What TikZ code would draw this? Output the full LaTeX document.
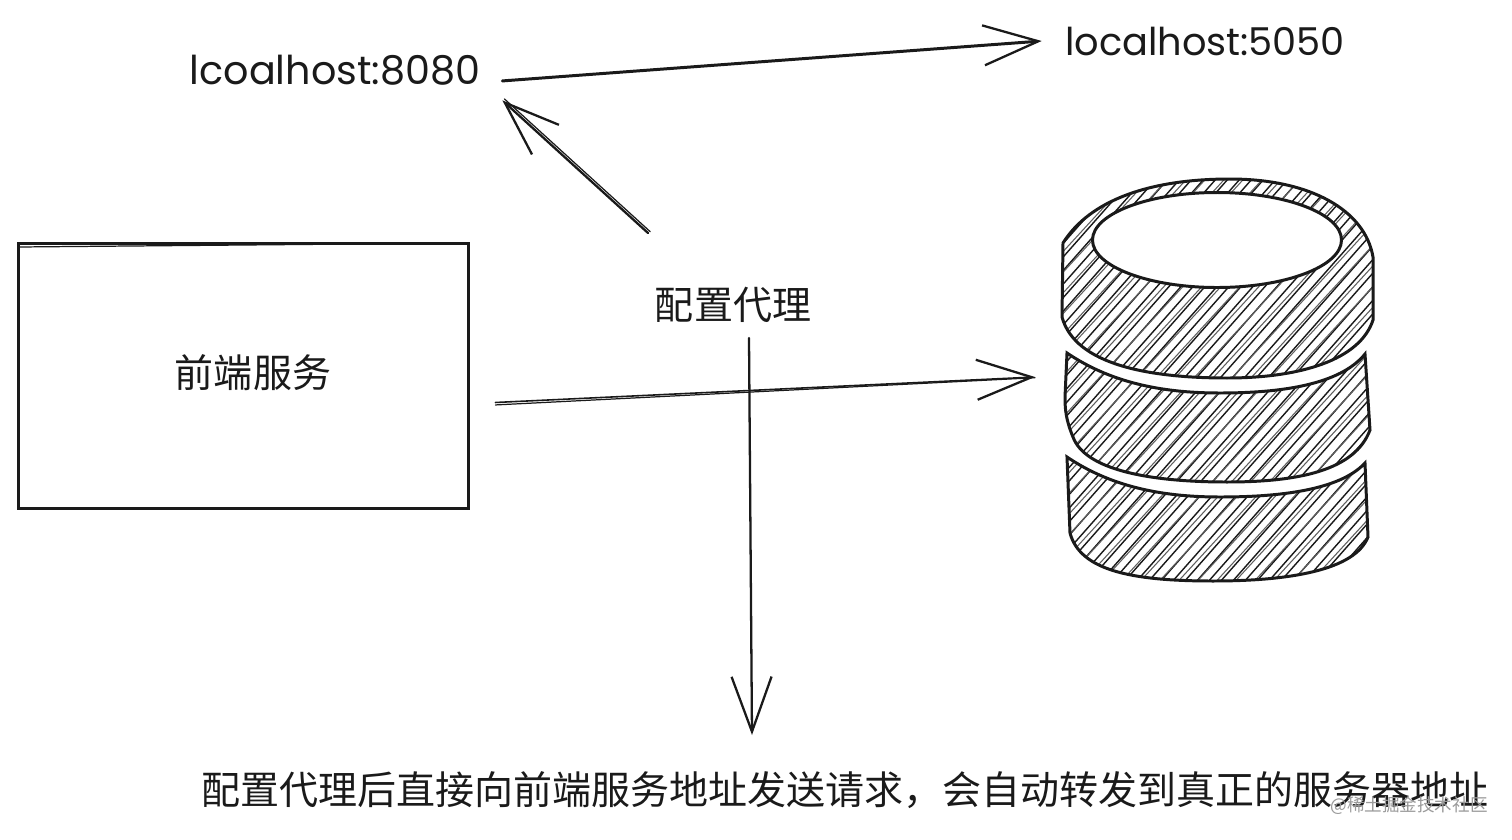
\documentclass[tikz,border=0pt]{standalone}
\usepackage{fontspec}
\setmainfont{Poppins}
\newfontfamily\cjk{Noto Sans CJK SC}
\usetikzlibrary{arrows.meta, positioning}
\definecolor{inkblack}{HTML}{1A1A1A}
\definecolor{markgray}{HTML}{9A9A9A}

% database tiers
\newcommand{\dbtop}{(1063,243) .. controls (1090,200) and (1150,179) .. (1230,179) .. controls (1310,179) and (1365,210) .. (1373,257) -- (1373,320) .. controls (1360,360) and (1300,378) .. (1227,378) .. controls (1150,378) and (1075,365) .. (1062,317) -- cycle}
\newcommand{\dbmid}{(1067,353) .. controls (1110,382) and (1160,393) .. (1220,393) .. controls (1280,393) and (1340,385) .. (1365,354) -- (1370,430) .. controls (1355,470) and (1300,482) .. (1227,482) .. controls (1150,482) and (1085,470) .. (1073,437) .. controls (1066,420) and (1065,410) .. (1065,397) -- cycle}
\newcommand{\dblow}{(1067,457) .. controls (1110,486) and (1160,497) .. (1220,497) .. controls (1280,497) and (1340,490) .. (1365,463) -- (1368,537) .. controls (1355,570) and (1290,581) .. (1213,581) .. controls (1130,581) and (1080,570) .. (1070,533) -- cycle}
\newcommand{\hatchtier}[1]{
  \begin{scope}
    \clip #1;
    \foreach \d in {700,712,...,1400}
      \draw[inkblack, line width=0.8pt] (\d,600) -- (\d+380,170);
    \foreach \d in {705,724,...,1400}
      \draw[inkblack!70, line width=0.6pt] (\d,600) -- (\d+395,170);
  \end{scope}
  \draw[tierline] #1;
}

\begin{document}
\begin{tikzpicture}[x=0.02cm, y=-0.02cm, line cap=round,
  sketch/.style={inkblack, line width=1.3pt},
  sketchtip/.style={sketch, -{Straight Barb[length=1.1cm, width=0.8cm, line width=1.3pt]}},
  thinline/.style={inkblack, line width=0.7pt},
  tierline/.style={inkblack, line width=1.7pt},
  cjklabel/.style={font=\cjk\fontsize{22.2}{26}\selectfont, text=inkblack, inner sep=0pt},
  hostlabel/.style={font=\fontsize{22.6}{26}\selectfont, text=inkblack, inner sep=0pt}]

% Background
\useasboundingbox (0,0) rectangle (1512,839);
\fill[white] (0,0) rectangle (1512,839);

% Host labels
\node[hostlabel, minimum width=6.24cm, minimum height=1.2cm] (lcoal) at (346,70) {\kern-0.44cm lcoalhost:8080};
\node[hostlabel, font=\fontsize{21.8}{26}\selectfont, minimum width=6.52cm] (local) at (1205,41) {localhost:5050};

% Front end box
\node[draw=inkblack, line width=1.4pt, minimum width=9cm, minimum height=5.3cm, inner sep=0pt,
  outer xsep=0.54cm, outer ysep=0pt] (frontend) at (243.5,376) {};
\draw[thinline] (18,247) -- (468,243);
\node[cjklabel] (frontlabel) at (253,373) {前端服务};

% Proxy label and note
\node[cjklabel] (proxy) at (733,305) {配置代理};
\node[cjklabel] (note) at (845,790) {配置代理后直接向前端服务地址发送请求，会自动转发到真正的服务器地址};
\node[font=\cjk\fontsize{10}{12}\selectfont, text=markgray, inner sep=0pt] (mark) at (1409,806) {@稀土掘金技术社区};

% Free ends of the arrows
\coordinate (proxyup) at (648,233);
\coordinate (proxydown) at (749,338);
\coordinate (notetip) at (752,735);
\coordinate (dbin) at (1035,377);

% Arrows
\draw[sketchtip, line width=1.7pt] (lcoal.-4) -- (local.west);
\draw[sketchtip] (proxyup) -- (lcoal.south east);
\draw[thinline] ([xshift=1.2pt,yshift=0.8pt]proxyup) -- ([xshift=1.2pt,yshift=0.8pt]lcoal.south east);
\draw[sketchtip] (proxydown) -- (notetip);
\draw[sketchtip, line width=0.9pt] (frontend.-6.35) -- (dbin);
\draw[thinline] ([yshift=-1.4pt]frontend.-6.35) -- ([yshift=-0.4pt]dbin);

% Database
\hatchtier{\dbtop}
\hatchtier{\dbmid}
\hatchtier{\dblow}
\draw[tierline, fill=white] (1217,240) ellipse [x radius=124.5, y radius=47.5];

\end{tikzpicture}
\end{document}
